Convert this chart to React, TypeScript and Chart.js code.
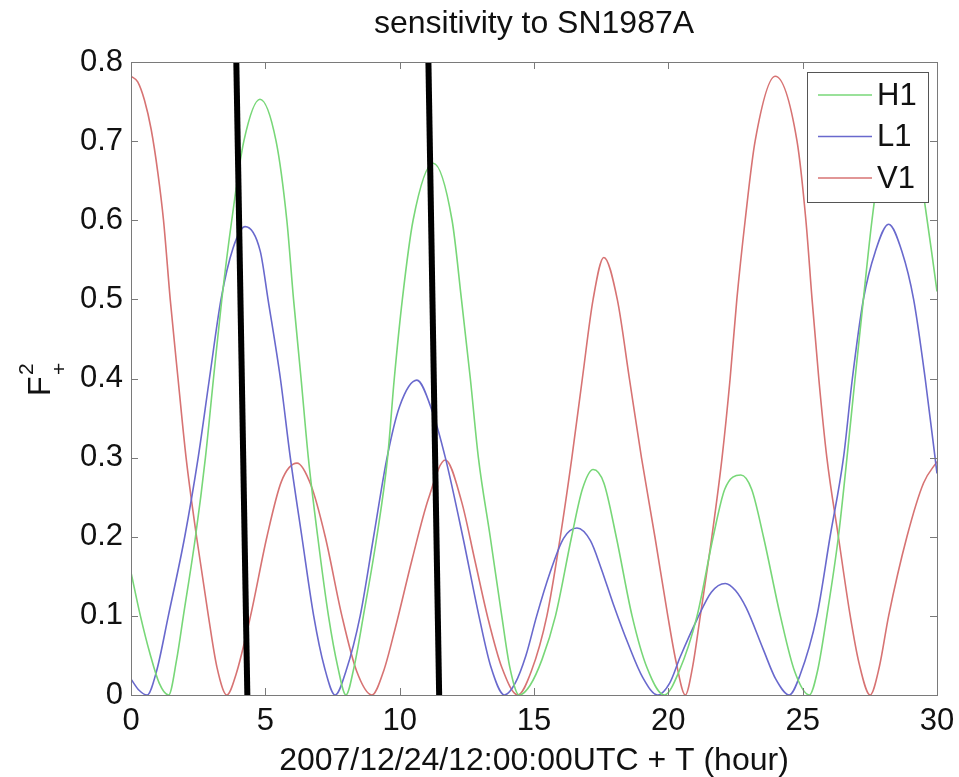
import React, { useEffect, useRef } from 'react';
import { Chart, registerables } from 'chart.js';

Chart.register(...registerables);

const FONT = "'Liberation Sans', Arial, Helvetica, sans-serif";
const TEXT = '#111111';
const FRAME = '#7a7a7a';

const chartTitle = 'sensitivity to SN1987A';
const xAxisTitle = '2007/12/24/12:00:00UTC + T (hour)';
const xTickValues = [0, 5, 10, 15, 20, 25, 30];
const yTickValues = [0, 0.1, 0.2, 0.3, 0.4, 0.5, 0.6, 0.7, 0.8];

const seriesNames = ['H1', 'L1', 'V1'];
const seriesColors = ['rgb(120,215,120)', 'rgb(105,105,205)', 'rgb(215,115,115)'];

const h1Hours = [0,0.35,0.7,1.05,1.4,1.7,1.95,2.4,2.77,3.07,3.38,3.75,4.2,4.8,5.4,5.8,6.05,6.33,6.6,6.95,7.35,7.7,8.0,8.3,8.65,9.15,9.55,9.8,10.1,10.5,11.25,11.95,12.3,12.63,12.93,13.37,13.8,14.1,14.45,14.85,15.3,15.8,16.4,16.8,17.2,17.6,18.06,18.65,19.2,19.85,20.4,21.07,21.67,22.1,22.7,23.1,23.54,24.17,24.7,25.25,25.55,25.9,26.33,26.65,26.95,27.26,27.58,28.0,28.65,29.2,29.55,29.8,30];
const h1Values = [0.155,0.1,0.053,0.015,0,0.045,0.1,0.2,0.3,0.4,0.5,0.6,0.7,0.753,0.7,0.6,0.5,0.4,0.3,0.2,0.1,0.035,0,0.035,0.1,0.2,0.3,0.4,0.5,0.6,0.672,0.6,0.5,0.4,0.3,0.2,0.1,0.035,0,0.012,0.045,0.1,0.2,0.26,0.285,0.268,0.2,0.1,0.035,0,0.03,0.1,0.2,0.26,0.278,0.26,0.2,0.1,0.03,0,0.03,0.1,0.2,0.3,0.4,0.5,0.6,0.7,0.75,0.7,0.62,0.56,0.51];

const l1Hours = [0,0.3,0.6,0.95,1.39,2.0,2.5,2.92,3.35,3.8,4.25,4.81,5.1,5.56,5.93,6.36,6.8,7.2,7.6,8.0,8.53,9.03,9.53,10.0,10.64,11.2,11.7,12.35,12.95,13.4,13.9,14.3,14.7,15.1,15.6,16.1,16.6,17.1,17.5,17.95,18.5,19.05,19.6,20.05,20.44,21.06,21.6,22.12,22.5,22.9,23.54,24.0,24.5,24.9,25.53,26.02,26.52,26.85,27.26,27.7,28.2,28.7,29.13,29.56,30];
const l1Values = [0.02,0.006,0,0.03,0.1,0.2,0.3,0.4,0.5,0.565,0.592,0.561,0.5,0.4,0.3,0.2,0.1,0.035,0,0.03,0.1,0.2,0.3,0.365,0.398,0.36,0.3,0.2,0.1,0.035,0,0.015,0.05,0.1,0.155,0.198,0.211,0.195,0.16,0.115,0.065,0.022,0,0.015,0.048,0.095,0.13,0.141,0.132,0.11,0.057,0.02,0,0.025,0.1,0.2,0.3,0.4,0.5,0.56,0.595,0.56,0.5,0.4,0.28];

const v1Hours = [0,0.25,0.5,0.75,1.0,1.21,1.46,1.75,2.05,2.44,2.88,3.2,3.57,3.9,4.45,5.06,5.6,6.18,6.7,7.23,7.85,8.4,8.97,9.4,9.84,10.46,11.07,11.7,12.3,12.8,13.3,13.8,14.4,14.9,15.48,15.98,16.41,16.8,17.2,17.6,18.1,18.55,19.0,19.5,19.98,20.3,20.63,20.9,21.19,21.62,22.0,22.3,22.55,22.86,23.23,23.98,24.79,25.12,25.35,25.6,25.9,26.33,26.77,27.1,27.51,27.85,28.2,28.88,29.5,30];
const v1Values = [0.782,0.775,0.752,0.715,0.66,0.6,0.5,0.4,0.3,0.2,0.1,0.035,0,0.025,0.1,0.2,0.27,0.293,0.265,0.2,0.1,0.03,0,0.03,0.085,0.171,0.248,0.297,0.245,0.17,0.095,0.035,0,0.03,0.1,0.2,0.3,0.4,0.5,0.553,0.5,0.4,0.3,0.2,0.1,0.04,0,0.035,0.1,0.2,0.3,0.4,0.5,0.6,0.7,0.782,0.7,0.6,0.5,0.4,0.3,0.2,0.1,0.04,0,0.035,0.1,0.2,0.268,0.295];

// two hand-drawn black marker lines (slightly slanted)
const marker1Hours = [3.92, 4.33];
const marker1Values = [0.8, 0];
const marker2Hours = [11.07, 11.47];
const marker2Values = [0.8, 0];

const toPoints = (xs: number[], ys: number[]) => xs.map((x, i) => ({ x, y: ys[i] }));

const framePlugin = {
  id: 'matlabFrame',
  afterDatasetsDraw(chart: any) {
    const { ctx, chartArea: a, scales } = chart;
    ctx.save();
    ctx.strokeStyle = FRAME;
    ctx.lineWidth = 1;
    ctx.strokeRect(Math.round(a.left) + 0.5, Math.round(a.top) + 0.5, Math.round(a.right - a.left), Math.round(a.bottom - a.top));
    const tl = 7;
    ctx.beginPath();
    xTickValues.forEach((v) => {
      const px = Math.round(scales.x.getPixelForValue(v)) + 0.5;
      ctx.moveTo(px, a.bottom); ctx.lineTo(px, a.bottom - tl);
      ctx.moveTo(px, a.top); ctx.lineTo(px, a.top + tl);
    });
    yTickValues.forEach((v) => {
      const py = Math.round(scales.y.getPixelForValue(v)) + 0.5;
      ctx.moveTo(a.left, py); ctx.lineTo(a.left + tl, py);
      ctx.moveTo(a.right, py); ctx.lineTo(a.right - tl, py);
    });
    ctx.stroke();
    ctx.restore();
  },
};

const legendPlugin = {
  id: 'insideLegend',
  afterDraw(chart: any) {
    const { ctx } = chart;
    const left = 807, top = 72, width = 121, height = 130;
    ctx.save();
    ctx.fillStyle = '#ffffff';
    ctx.fillRect(left, top, width, height);
    ctx.strokeStyle = '#555555';
    ctx.lineWidth = 1;
    ctx.strokeRect(left + 0.5, top + 0.5, width, height);
    ctx.font = `31px ${FONT}`;
    ctx.textBaseline = 'middle';
    ctx.textAlign = 'left';
    seriesNames.forEach((name, i) => {
      const y = top + 23 + i * 41.5;
      ctx.strokeStyle = seriesColors[i];
      ctx.lineWidth = 1.6;
      ctx.beginPath();
      ctx.moveTo(left + 11, y);
      ctx.lineTo(left + 65, y);
      ctx.stroke();
      ctx.fillStyle = TEXT;
      ctx.fillText(name, left + 70, y + 1);
    });
    ctx.restore();
  },
};

const yLabelPlugin = {
  id: 'yLabel',
  afterDraw(chart: any) {
    const { ctx } = chart;
    ctx.save();
    ctx.translate(50, 396);
    ctx.rotate(-Math.PI / 2);
    ctx.fillStyle = TEXT;
    ctx.textAlign = 'left';
    ctx.textBaseline = 'alphabetic';
    ctx.font = `32px ${FONT}`;
    ctx.fillText('F', 0, 0);
    ctx.font = `21px ${FONT}`;
    ctx.fillText('2', 21, -17);
    ctx.fillText('+', 21, 16);
    ctx.restore();
  },
};

export default function App() {
  const ref = useRef<HTMLCanvasElement | null>(null);

  useEffect(() => {
    if (!ref.current) return;
    const seriesHours = [h1Hours, l1Hours, v1Hours];
    const seriesValues = [h1Values, l1Values, v1Values];
    const datasets: any[] = seriesNames.map((name, i) => ({
      label: name,
      data: toPoints(seriesHours[i], seriesValues[i]),
      borderColor: seriesColors[i],
      borderWidth: 1.6,
      pointRadius: 0,
      fill: false,
      cubicInterpolationMode: 'monotone',
      order: 1,
    }));
    [[marker1Hours, marker1Values], [marker2Hours, marker2Values]].forEach(([xs, ys], i) => {
      datasets.push({
        label: `marker${i + 1}`,
        data: toPoints(xs, ys),
        borderColor: '#000000',
        borderWidth: 6,
        pointRadius: 0,
        fill: false,
        tension: 0,
        order: -1,
      });
    });

    const tickFont = { family: FONT, size: 31 };
    const chart = new Chart(ref.current, {
      type: 'line',
      data: { datasets },
      plugins: [framePlugin, legendPlugin, yLabelPlugin],
      options: {
        animation: false,
        responsive: false,
        maintainAspectRatio: false,
        events: [],
        layout: { padding: 0 },
        plugins: {
          legend: { display: false },
          tooltip: { enabled: false },
          title: { display: false },
        },
        scales: {
          x: {
            type: 'linear',
            min: 0,
            max: 30,
            afterBuildTicks: (s: any) => { s.ticks = xTickValues.map((v) => ({ value: v })); },
            ticks: { font: tickFont, color: TEXT, padding: 8, maxRotation: 0, callback: (v: any) => String(v) },
            grid: { display: false, drawTicks: false },
            border: { display: false },
            title: {
              display: true,
              text: xAxisTitle,
              color: TEXT,
              font: { family: FONT, size: 32, lineHeight: 1 },
              padding: 0,
            },
            afterFit: (s: any) => { s.height = 82; s.paddingLeft = 0; s.paddingRight = 22; },
          },
          xTop: {
            type: 'linear',
            position: 'top',
            min: 0,
            max: 30,
            ticks: { display: false },
            grid: { display: false, drawTicks: false },
            border: { display: false },
            title: {
              display: true,
              text: chartTitle,
              color: TEXT,
              font: { family: FONT, size: 32, lineHeight: 1.2 },
              padding: { top: 5, bottom: 0 },
            },
            afterFit: (s: any) => { s.height = 62; s.paddingLeft = 0; s.paddingRight = 0; },
          },
          y: {
            type: 'linear',
            min: 0,
            max: 0.8,
            afterBuildTicks: (s: any) => { s.ticks = yTickValues.map((v) => ({ value: v })); },
            ticks: {
              font: tickFont,
              color: TEXT,
              padding: 8,
              callback: (v: any) => (Number(v) === 0 ? '0' : Number(v).toFixed(1)),
            },
            grid: { display: false, drawTicks: false },
            border: { display: false },
            afterFit: (s: any) => { s.width = 131; },
          },
        },
      } as any,
    });
    return () => chart.destroy();
  }, []);

  return (
    <div style={{ position: 'absolute', left: 0, top: 0, width: 959, height: 777, background: '#fff' }}>
      <canvas ref={ref} width={959} height={777} style={{ display: 'block', width: 959, height: 777 }} />
    </div>
  );
}
